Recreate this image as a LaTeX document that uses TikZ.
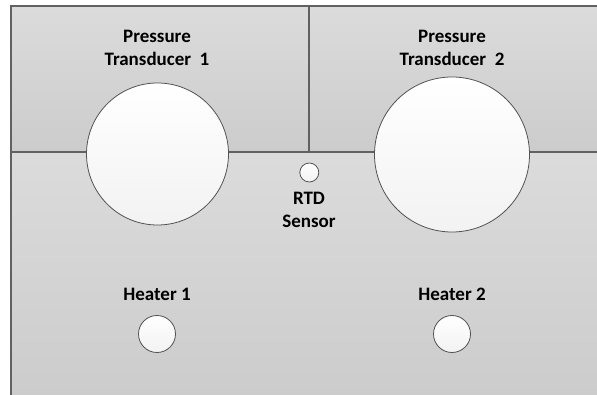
\documentclass[tikz,border=0pt]{standalone}
\usepackage{fontspec}
\setmainfont{Carlito}
\begin{document}
\begin{tikzpicture}[x=1pt,y=-1pt,
  panel/.style={draw=black!62,line width=1.2pt,top color=black!14,bottom color=black!20},
  port/.style={circle,draw=black!68,line width=0.8pt,top color=white,bottom color=black!5,inner sep=0pt},
  lbl/.style={font=\fontsize{19}{23}\selectfont\bfseries,align=center,text=black}]
\useasboundingbox (0,0) rectangle (597,395);
% panels
\path[panel] (11,152) rectangle (600,398);
\path[panel] (11,6) rectangle (309,152);
\path[panel] (309,6) rectangle (600,152);
% ports
\node[port,minimum size=142pt] (pt1) at (157.5,154) {};
\node[port,minimum size=155pt] (pt2) at (452,154.5) {};
\node[port,minimum size=19pt] (rtd) at (309.3,172.5) {};
\node[port,minimum size=37pt] (h1) at (157,334) {};
\node[port,minimum size=37pt] (h2) at (452,334) {};
% labels
\node[lbl] (pt1l) at (157,48) {Pressure\\Transducer\ \ 1};
\node[lbl] (pt2l) at (452,48) {Pressure\\Transducer\ \ 2};
\node[lbl] (rtdl) at (309,209.5) {RTD\\Sensor};
\node[lbl] (h1l) at (157,294) {Heater 1};
\node[lbl] (h2l) at (452,294) {Heater 2};
\end{tikzpicture}
\end{document}
